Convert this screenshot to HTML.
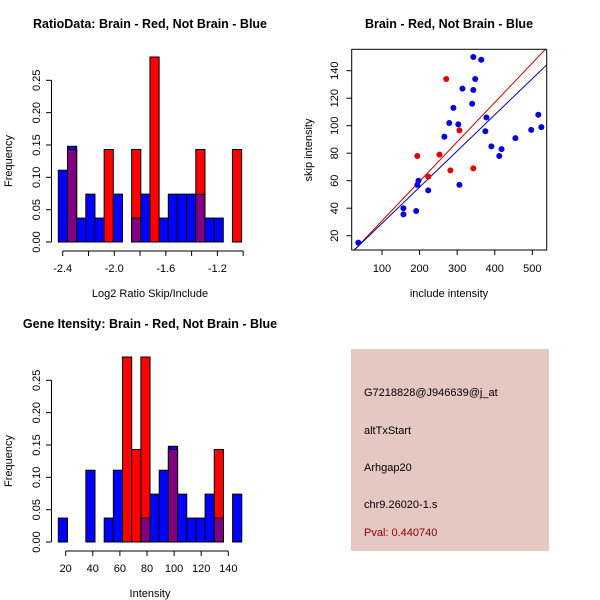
<!DOCTYPE html>
<html><head><meta charset="utf-8"><style>
body{margin:0;background:#fff}
svg{display:block;font-family:"Liberation Sans",sans-serif}
</style></head><body>
<svg id="s" width="600" height="600" xmlns="http://www.w3.org/2000/svg">
<rect width="600" height="600" fill="#fff"/>
<rect x="351" y="349" width="198" height="202" fill="#e5c8c2"/>
<text x="364" y="396" font-size="11">G7218828@J946639@j_at</text>
<text x="364" y="434" font-size="11">altTxStart</text>
<text x="364" y="471" font-size="11">Arhgap20</text>
<text x="364" y="508" font-size="11">chr9.26020-1.s</text>
<text x="364" y="536" font-size="11" fill="#8b0000">Pval: 0.440740</text>
</svg>
<script>
// Histogram 1 data
const h1Blue=[0.111,0.148,0.037,0.074,0.037,0,0.074,0,0.037,0.074,0,0.037,0.074,0.074,0.074,0.074,0.037,0.037,0,0];
const h1Red=[0,0.143,0,0,0,0.143,0,0,0.143,0,0.286,0,0,0,0,0.143,0,0,0,0.143];
const h1Ticks=[-2.4,-2.2,-2.0,-1.8,-1.6,-1.4,-1.2,-1.0];
const h1Labels=["-2.4","-2.0","-1.6","-1.2"];
// Histogram 2 data
const h2Blue=[0.037,0,0,0.111,0,0.037,0.111,0,0,0.037,0.074,0.111,0.148,0.074,0.037,0.037,0.074,0.037,0,0.074];
const h2Red=[0,0,0,0,0,0,0,0.286,0.143,0.286,0,0,0.143,0,0,0,0,0.143,0,0];
const h2Ticks=[20,40,60,80,100,120,140];
const yTicks=[0,0.05,0.10,0.15,0.20,0.25];
const yLabels=["0.00","0.05","0.10","0.15","0.20","0.25"];
// Scatter data
const blueX=[37,157,157,191,194,197,223,266,279,290,303,306,314,340,343,343,348,364,378,375,391,412,418,455,497,516,524];
const blueY=[15,40,35.5,38,57,60,53,92,102,113,101,57,127,116,126,150,134,148,106,96,85,78,83,91,97,108,99];
const redX=[194,223,253,271,282,306,343];
const redY=[78,63,79,134,67.5,96.6,69];
const redFit=[2.1,0.287];
const blueFit=[2.7,0.263];
const sxTicks=[100,200,300,400,500];
const syTicks=[20,40,60,80,100,120,140];

const S=document.getElementById('s');
const NS="http://www.w3.org/2000/svg";
function mk(tag,at,name,parent){const e=document.createElementNS(NS,tag);for(const k in at)e.setAttribute(k,at[k]);


(parent||S).appendChild(e);return e;}
function txt(x,y,s,name,opt){const e=mk('text',Object.assign({x:x,y:y,'font-size':11,'text-anchor':'middle'},opt||{}),name);e.textContent=s;return e;}

function hist(oy,blue,red,x0,bw,xs,ticks,labels,title,xlab,pre){
  const ys=v=>oy+242-v*646.8;
  const n=blue.length;
  for(let i=0;i<n;i++){
    const xa=xs(x0+i*bw),xb=xs(x0+(i+1)*bw);
    const b=blue[i],r=red[i];
    if(b>0)mk('rect',{x:xa,y:ys(b),width:xb-xa,height:ys(0)-ys(b),fill:'#0000ff',stroke:'#000','stroke-width':1},pre+'-blue-bar-'+i);
    if(r>0)mk('rect',{x:xa,y:ys(r),width:xb-xa,height:ys(0)-ys(r),fill:'#ff0000',stroke:'#000','stroke-width':1},pre+'-red-bar-'+i);
    const m=Math.min(b,r);
    if(m>0)mk('rect',{x:xa,y:ys(m),width:xb-xa,height:ys(0)-ys(m),fill:'#800080',stroke:'#000','stroke-width':1},pre+'-overlap-bar-'+i);
  }
  // y axis
  mk('line',{x1:51.5,x2:51.5,y1:ys(0),y2:ys(0.25),stroke:'#000'},pre+'-y-axis');
  yTicks.forEach((t,i)=>{mk('line',{x1:46,x2:51.5,y1:ys(t),y2:ys(t),stroke:'#000'},pre+'-y-tick');
    txt(40,ys(t),yLabels[i],pre+'-y-tick-label',{transform:`rotate(-90 40 ${ys(t)})`});});
  // x axis
  const ax=oy+251;
  mk('line',{x1:xs(ticks[0]),x2:xs(ticks[ticks.length-1]),y1:ax,y2:ax,stroke:'#000'},pre+'-x-axis');
  ticks.forEach(t=>mk('line',{x1:xs(t),x2:xs(t),y1:ax,y2:ax+5,stroke:'#000'},pre+'-x-tick'));
  labels.forEach(l=>txt(xs(parseFloat(l)),oy+272,l,pre+'-x-tick-label'));
  txt(150,oy+297,xlab,pre+'-x-axis-title');
  txt(12,oy+161,'Frequency',pre+'-y-axis-title',{transform:`rotate(-90 12 ${oy+161})`});
  txt(150,oy+28,title,pre+'-title',{'font-weight':'bold','font-size':12.5});
}
hist(0,h1Blue,h1Red,-2.434,0.0711,v=>62.7+(v+2.4)*128.9,h1Ticks,h1Labels,'RatioData: Brain - Red, Not Brain - Blue','Log2 Ratio Skip/Include','hist1');
hist(300,h2Blue,h2Red,14.55,6.77,v=>65.7+(v-20)*1.355,h2Ticks,h2Ticks.map(String),'Gene Itensity: Brain - Red, Not Brain - Blue','Intensity','hist2');

// scatter
const sx=v=>382+(v-100)*0.3758, sy=v=>235.7-(v-20)*1.375;
const clip=mk('clipPath',{id:'pc'},'plot-clip');
mk('rect',{x:351.7,y:49.3,width:195,height:200.7},'clip-rect',clip);
mk('line',{x1:sx(0),y1:sy(redFit[0]),x2:sx(600),y2:sy(redFit[0]+redFit[1]*600),stroke:'#cc0000','clip-path':'url(#pc)'},'red-fit-line');
mk('line',{x1:sx(0),y1:sy(blueFit[0]),x2:sx(600),y2:sy(blueFit[0]+blueFit[1]*600),stroke:'#0000aa','clip-path':'url(#pc)'},'blue-fit-line');
blueX.forEach((x,i)=>mk('circle',{cx:sx(x),cy:sy(blueY[i]),r:3,fill:'#0000dd'},'blue-point'));
redX.forEach((x,i)=>mk('circle',{cx:sx(x),cy:sy(redY[i]),r:3,fill:'#e00000'},'red-point'));
mk('rect',{x:351.7,y:49.3,width:195,height:200.7,fill:'none',stroke:'#000'},'scatter-plot-box');
sxTicks.forEach(t=>{mk('line',{x1:sx(t),x2:sx(t),y1:250,y2:255,stroke:'#000'},'scatter-x-tick');txt(sx(t),272,String(t),'scatter-x-tick-label');});
syTicks.forEach(t=>{mk('line',{x1:346.5,x2:351.7,y1:sy(t),y2:sy(t),stroke:'#000'},'scatter-y-tick');txt(338,sy(t),String(t),'scatter-y-tick-label',{transform:`rotate(-90 338 ${sy(t)})`});});
txt(449,297,'include intensity','scatter-x-axis-title');
txt(312,150,'skip intensity','scatter-y-axis-title',{transform:'rotate(-90 312 150)'});
txt(449,28,'Brain - Red, Not Brain - Blue','scatter-title',{'font-weight':'bold','font-size':12.5});
</script>
</body></html>
